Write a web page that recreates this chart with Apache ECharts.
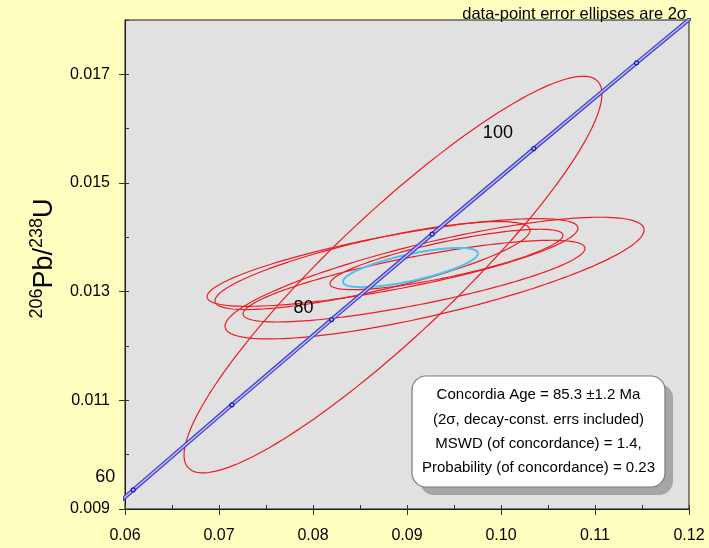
<!DOCTYPE html>
<html>
<head>
<meta charset="utf-8">
<script src="https://cdn.jsdelivr.net/npm/echarts@6/dist/echarts.min.js"></script>
<style>html,body{margin:0;padding:0;background:#ffffc0;}#c{width:709px;height:548px;}</style>
</head>
<body>
<div id="c"></div>
<script>
// ---- data ----
// concordia reference points (age in Ma, 207Pb/235U, 206Pb/238U)
var concAges = [50, 60, 70, 80, 90, 100, 110, 120];
var concX = [0.050475, 0.060872, 0.071371, 0.081975, 0.092683, 0.103498, 0.114419, 0.125449];
var concY = [0.007786, 0.009351, 0.010918, 0.012487, 0.014059, 0.015633, 0.017210, 0.018789];
var concLabelAges = [60, 80, 100];

// data-point error ellipses (centre, 2-sigma half-errors, error correlation)
var ellX   = [0.08851, 0.09293, 0.08846, 0.08633, 0.09075, 0.09420];
var ellY   = [0.013315, 0.013250, 0.013537, 0.013481, 0.013194, 0.013593];
var ellSx  = [0.02223, 0.02229, 0.01973, 0.01676, 0.01819, 0.01239];
var ellSy  = [0.00365, 0.00112, 0.000807, 0.000810, 0.000752, 0.000556];
var ellRho = [0.91, 0.79, 0.78, 0.80, 0.80, 0.80];

// concordia age ellipse
var ageX = [0.09037], ageY = [0.013444], ageSx = [0.00718], ageSy = [0.000361], ageRho = [0.72];

// axis ticks
var xMajor = [0.06, 0.07, 0.08, 0.09, 0.10, 0.11, 0.12];
var xAll = [0.06, 0.065, 0.07, 0.075, 0.08, 0.085, 0.09, 0.095, 0.10, 0.105, 0.11, 0.115, 0.12];
var yMajor = [0.009, 0.011, 0.013, 0.015, 0.017];
var yAll = [0.009, 0.010, 0.011, 0.012, 0.013, 0.014, 0.015, 0.016, 0.017, 0.018];

var boxLines = [
  'Concordia Age = 85.3 \u00b11.2 Ma',
  '(2\u03c3, decay-const. errs included)',
  'MSWD (of concordance) = 1.4,',
  'Probability (of concordance) = 0.23'
];
var titleText = 'data-point error ellipses are 2\u03c3';

// ---- styling (not data) ----
var FONT = '"Liberation Sans", Arial, sans-serif';
var labelOffsetByAge = {60: [-28, -13], 80: [-28, -12], 100: [-36, -16]};

function zip(){ var a = arguments, out = []; for (var i = 0; i < a[0].length; i++){ var r = []; for (var j = 0; j < a.length; j++) r.push(a[j][i]); out.push(r);} return out; }

function ellipseRenderer(color, width){
  return function(params, api){
    var cx = api.value(0), cy = api.value(1), a = api.value(2), b = api.value(3), r = api.value(4);
    var s = Math.sqrt(1 - r*r), pts = [], N = 180;
    for (var i = 0; i <= N; i++){
      var t = 2*Math.PI*i/N;
      pts.push(api.coord([cx + a*Math.cos(t), cy + b*(r*Math.cos(t) + s*Math.sin(t))]));
    }
    return {type:'polyline', shape:{points:pts}, style:{fill:null, stroke:color, lineWidth:width}};
  };
}

var concData = zip(concX, concY, concAges);
var markerData = concData.map(function(d){
  var lab = concLabelAges.indexOf(d[2]) >= 0;
  return {value:d, label:{show:lab, offset:labelOffsetByAge[d[2]] || [0,0], color:'#000', opacity:1, textBorderWidth:0}};
});

var chart = echarts.init(document.getElementById('c'));
chart.setOption({
  backgroundColor:'#ffffc0',
  animation:false,
  title:{text:titleText, right:17, top:1, textStyle:{fontSize:16.5, fontWeight:'normal', color:'#000', fontFamily:FONT}},
  grid:{left:125, right:20, top:20, bottom:39, show:true, backgroundColor:'#e1e1e1', borderColor:'#1a1a1a', borderWidth:1},
  xAxis:[
    {type:'value', min:0.06, max:0.12, position:'bottom',
     axisLine:{show:true, onZero:false, lineStyle:{color:'#1a1a1a'}},
     axisTick:{show:true, length:6, customValues:xMajor, lineStyle:{color:'#333'}},
     axisLabel:{customValues:xMajor, formatter:function(v){return v.toFixed(2);}, fontSize:16, color:'#000', fontFamily:FONT, margin:19},
     splitLine:{show:false}},
    {type:'value', min:0.06, max:0.12, position:'bottom', offset:0,
     axisLine:{show:false}, axisTick:{show:true, inside:true, length:4, customValues:xAll, lineStyle:{color:'#333'}},
     axisLabel:{show:false}, splitLine:{show:false}}
  ],
  yAxis:[
    {type:'value', min:0.009, max:0.018, position:'left',
     axisLine:{show:true, onZero:false, lineStyle:{color:'#1a1a1a'}},
     axisTick:{show:true, length:6, customValues:yMajor, lineStyle:{color:'#333'}},
     axisLabel:{customValues:yMajor, formatter:function(v){return v.toFixed(3);}, fontSize:16, color:'#000', fontFamily:FONT, margin:15},
     splitLine:{show:false},
     name:'{sup|206}{big|Pb/}{sup|238}{big|U}', nameLocation:'middle', nameRotate:90, nameGap:67,
     nameTextStyle:{fontFamily:FONT, color:'#000', padding:[0,0,0,12],
       rich:{big:{fontSize:27, fontFamily:FONT, color:'#000', lineHeight:30, verticalAlign:'bottom'},
             sup:{fontSize:18, fontFamily:FONT, color:'#000', lineHeight:30, verticalAlign:'top', padding:[0,0,10,0]}}}},
    {type:'value', min:0.009, max:0.018, position:'left', offset:0,
     axisLine:{show:false}, axisTick:{show:true, inside:true, length:4, customValues:yAll, lineStyle:{color:'#333'}},
     axisLabel:{show:false}, splitLine:{show:false}}
  ],
  series:[
    {type:'custom', name:'ellipses', xAxisIndex:0, yAxisIndex:0, clip:true,
     renderItem:ellipseRenderer('#ec1d25', 1.2), data:zip(ellX, ellY, ellSx, ellSy, ellRho), z:2, silent:true},
    {type:'custom', name:'age', xAxisIndex:0, yAxisIndex:0, clip:true,
     renderItem:ellipseRenderer('#48c4f0', 2), data:zip(ageX, ageY, ageSx, ageSy, ageRho), z:3, silent:true},
    {type:'line', name:'concordiaOuter', data:zip(concX, concY), showSymbol:false, symbol:'none', clip:true,
     lineStyle:{color:'#3c3cd4', width:4}, z:4, silent:true},
    {type:'line', name:'concordiaInner', data:zip(concX, concY), showSymbol:false, symbol:'none', clip:true,
     lineStyle:{color:'#b8b8f0', width:1.6}, z:5, silent:true},
    {type:'scatter', name:'ticks', data:markerData, symbol:'circle', symbolSize:4, clip:true,
     itemStyle:{color:'#b8b8f0', borderColor:'#1010c0', borderWidth:1.2, opacity:1}, z:6, silent:true,
     label:{show:false, position:'inside', formatter:function(p){return String(p.value[2]);},
            fontSize:18, color:'#000', opacity:1, fontFamily:FONT, textBorderWidth:0}}
  ],
  graphic:[
    {type:'rect', shape:{x:420, y:384, width:253, height:111, r:14}, style:{fill:'#a6a6a6'}, z:100},
    {type:'rect', shape:{x:412, y:376, width:253, height:111, r:14}, style:{fill:'#ffffff', stroke:'#7a7a7a', lineWidth:1.2}, z:101},
    {type:'text', x:538.5, y:395, style:{text:boxLines[0], align:'center', verticalAlign:'middle', font:'15px ' + FONT, fill:'#000'}, z:102},
    {type:'text', x:538.5, y:420, style:{text:boxLines[1], align:'center', verticalAlign:'middle', font:'15px ' + FONT, fill:'#000'}, z:102},
    {type:'text', x:538.5, y:444, style:{text:boxLines[2], align:'center', verticalAlign:'middle', font:'15px ' + FONT, fill:'#000'}, z:102},
    {type:'text', x:538.5, y:468, style:{text:boxLines[3], align:'center', verticalAlign:'middle', font:'15px ' + FONT, fill:'#000'}, z:102}
  ]
});
</script>
</body>
</html>
